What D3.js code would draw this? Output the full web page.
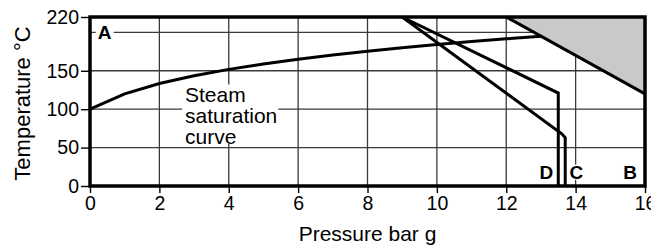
<!DOCTYPE html>
<html><head><meta charset="utf-8">
<script src="https://cdn.jsdelivr.net/npm/d3@7"></script>
<style>
body{margin:0;background:#fff;}
svg{display:block;font-family:"Liberation Sans",Arial,Helvetica,sans-serif;}
</style></head>
<body><svg id="c" width="651" height="246"></svg>
<script>
// Data
const satPressure = [0,1,2,3,4,5,6,7,8,9,10,11,12,13];
const satTemp = [100,120,133.5,143.6,151.8,158.8,165,170.4,175.4,179.9,184.1,188,191.6,195];
const lineDPressure = [9,13.5,13.5];
const lineDTemp = [220,121,0];
const lineCPressure = [9,13.6,13.7,13.7];
const lineCTemp = [220,68,63,0];
const shadePressure = [12,16,16];
const shadeTemp = [220,220,120];
const xTicks = [0,2,4,6,8,10,12,14,16];
const yTicks = [0,50,100,150,220];
const yGrid = [50,100,150,200];
const xGrid = [2,4,6,8,10,12,14];
const regionLabels = ["A","D","C","B"];
const regionPressure = [0.42,13.16,14.02,15.57];
const regionTemp = [200,18,18,18];
const curveLabel = ["Steam","saturation","curve"];

const svg = d3.select("#c");
const x = d3.scaleLinear().domain([0,16]).range([90,645]);
const y = d3.scaleLinear().domain([0,220]).range([186,17]);
const gridColor = "#3a3a3a";

// grid
svg.append("g").selectAll("line").data(yGrid).join("line")
  .attr("x1",x(0)).attr("x2",x(16)).attr("y1",d=>y(d)).attr("y2",d=>y(d))
  .attr("stroke",gridColor).attr("stroke-width",1.3);
svg.append("g").selectAll("line").data(xGrid).join("line")
  .attr("x1",d=>x(d)).attr("x2",d=>x(d)).attr("y1",y(0)).attr("y2",y(220))
  .attr("stroke",gridColor).attr("stroke-width",1.3);

// axes
const xAxis = svg.append("g").attr("transform",`translate(0,${y(0)})`)
  .call(d3.axisBottom(x).tickValues(xTicks).tickSize(7).tickPadding(3).tickFormat(d3.format("d")));
const yAxis = svg.append("g").attr("transform",`translate(${x(0)},0)`)
  .call(d3.axisLeft(y).tickValues(yTicks).tickSize(9).tickPadding(2).tickFormat(d3.format("d")));
[xAxis,yAxis].forEach(a=>{
  a.select(".domain").remove();
  a.selectAll("line").attr("stroke","#000").attr("stroke-width",1.4);
  a.selectAll("text").attr("font-size",19.5).attr("fill","#000")
   .attr("font-family","'Liberation Sans',Arial,sans-serif");
});

const line = d3.line().x(d=>x(d[0])).y(d=>y(d[1]));

// shaded area
const shadePts = shadePressure.map((p,i)=>[p,shadeTemp[i]]);
svg.append("path")
  .attr("d",line(shadePts)+"Z")
  .attr("fill","#c8c9cb").attr("stroke","none");
svg.append("path")
  .attr("d",line([shadePts[0],shadePts[2]]))
  .attr("stroke","#000").attr("stroke-width",3).attr("fill","none");

function drawLine(px,py){
  svg.append("path").datum(px.map((p,i)=>[p,py[i]]))
    .attr("d",line).attr("fill","none").attr("stroke","#000")
    .attr("stroke-width",3).attr("stroke-linejoin","miter");
}
drawLine(satPressure,satTemp);
drawLine(lineDPressure,lineDTemp);
drawLine(lineCPressure,lineCTemp);

// frame
svg.append("rect").attr("x",x(0)).attr("y",y(220))
  .attr("width",x(16)-x(0)).attr("height",y(0)-y(220))
  .attr("fill","none").attr("stroke","#000").attr("stroke-width",3.5);

// curve label with white background
const cl = svg.append("g");
const clBg = cl.append("rect").attr("fill","#fff");
const clText = cl.append("text").attr("font-size",21).attr("fill","#000");
curveLabel.forEach((t,i)=>{
  clText.append("tspan").attr("x",x(2.74)).attr("y",y(110)+i*21).text(t);
});
const bb = clText.node().getBBox();
clBg.attr("x",bb.x-3).attr("y",bb.y+2).attr("width",bb.width+4).attr("height",bb.height-6);

// region labels
regionLabels.forEach((t,i)=>{
  const g = svg.append("g");
  const bg = g.append("rect").attr("fill","#fff");
  const tx = g.append("text").attr("x",x(regionPressure[i])).attr("y",y(regionTemp[i]))
    .attr("text-anchor","middle").attr("dominant-baseline","central")
    .attr("font-size",19).attr("font-weight","bold").text(t);
  const b = tx.node().getBBox();
  bg.attr("x",b.x-2).attr("y",b.y+3).attr("width",b.width+4).attr("height",b.height-6);
});

// axis titles
svg.append("text").attr("x",(x(0)+x(16))/2).attr("y",241)
  .attr("text-anchor","middle").attr("font-size",21).text("Pressure bar g");
svg.append("text").attr("transform",`translate(30,${(y(0)+y(220))/2+2}) rotate(-90)`)
  .attr("text-anchor","middle").attr("font-size",22).text("Temperature °C");
</script></body></html>
